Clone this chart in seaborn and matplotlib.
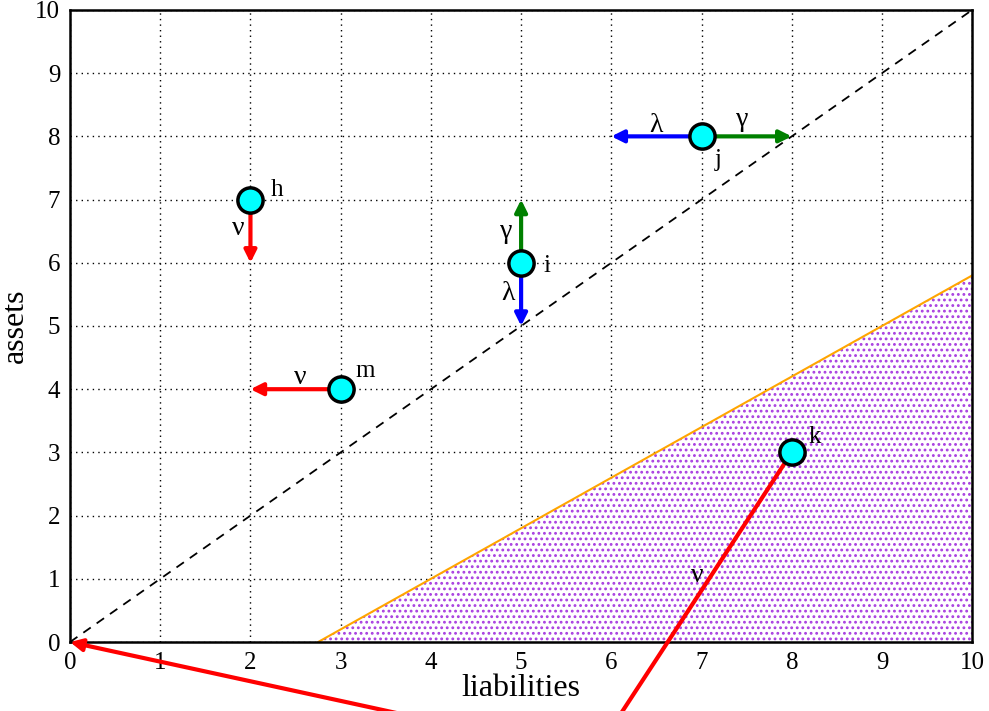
import matplotlib
matplotlib.use("Agg")
import matplotlib.pyplot as plt
import seaborn as sns
import pandas as pd

sns.set_theme(style="white")
plt.rcParams['font.family'] = ['Liberation Serif', 'DejaVu Serif']
plt.rcParams['hatch.linewidth'] = 1.25
plt.rcParams['text.color'] = 'black'
plt.rcParams['axes.labelcolor'] = 'black'
plt.rcParams['xtick.color'] = 'black'
plt.rcParams['ytick.color'] = 'black'

# banks: name, liabilities, assets
names = ["h", "i", "j", "m", "k"]
liabilities = [2, 5, 7, 3, 8]
assets = [7, 6, 8, 4, 3]
name_pos = [(2.29, 7.15), (5.29, 5.95), (7.18, 7.63), (3.27, 4.29), (8.26, 3.24)]

# shocks: start -> end, colour
arrow_start = [(2, 7), (5, 6), (5, 6), (7, 8), (7, 8), (3, 4), (8, 3), (5.8, -1.8)]
arrow_end = [(2, 6), (5, 7), (5, 5), (8, 8), (6, 8), (2, 4), (5.8, -1.8), (0, 0)]
arrow_color = ["red", "green", "blue", "green", "blue", "red", "red", "red"]
arrow_head = [True, True, True, True, True, True, False, True]

greek_labels = ["ν", "γ", "λ", "γ", "λ", "ν", "ν"]
greek_pos = [(1.86, 6.55), (4.84, 6.49), (4.86, 5.52), (7.45, 8.26), (6.49, 8.17), (2.55, 4.18), (6.95, 1.06)]

# default boundary
bound_x = [2.75, 10]
bound_y = [0, 5.8]

fig, ax = plt.subplots(figsize=(9.89, 7.11), dpi=100)
fig.subplots_adjust(left=0.0708, right=0.983, bottom=0.097, top=0.986)

ax.grid(True, color='black', linestyle=(0, (1, 3)), linewidth=1.0)

# insolvent region
ax.fill_between(bound_x, bound_y, 0, facecolor='white', edgecolor='#a83ee0',
                hatch='...', linewidth=0, zorder=1)
sns.lineplot(x=bound_x, y=bound_y, color='orange', linewidth=1.5, ax=ax, zorder=2)

# assets = liabilities
sns.lineplot(x=[0, 10], y=[0, 10], color='black', linestyle=(0, (5, 4)),
             linewidth=1.3, ax=ax, zorder=2)

for (x0, y0), (x1, y1), c, head in zip(arrow_start, arrow_end, arrow_color, arrow_head):
    style = '-|>' if head else '-'
    ax.annotate('', xy=(x1, y1), xytext=(x0, y0),
                arrowprops=dict(arrowstyle=style, color=c, lw=3,
                                mutation_scale=18, shrinkA=0, shrinkB=0),
                annotation_clip=False, zorder=3)

df = pd.DataFrame({"name": names, "liabilities": liabilities, "assets": assets})
sns.scatterplot(data=df, x="liabilities", y="assets", s=330, color='cyan',
                edgecolor='black', linewidth=2.5, ax=ax, zorder=5)

for n, (x, y) in zip(names, name_pos):
    ax.text(x, y, n, fontsize=18, ha='center', va='center', zorder=6)

for t, (x, y) in zip(greek_labels, greek_pos):
    ax.text(x, y, t, fontsize=20, ha='center', va='center', zorder=6)

ax.set_xlim(0, 10)
ax.set_ylim(0, 10)
ax.set_xticks(range(11))
ax.set_yticks(range(11))
ax.tick_params(labelsize=18, length=0, pad=7)
ax.set_xlabel("liabilities", fontsize=23, labelpad=0)
ax.set_ylabel("assets", fontsize=23, labelpad=4)
for sp in ax.spines.values():
    sp.set_visible(True)
    sp.set_color('black')
    sp.set_linewidth(1.8)

fig.savefig("out.png", dpi=100)
